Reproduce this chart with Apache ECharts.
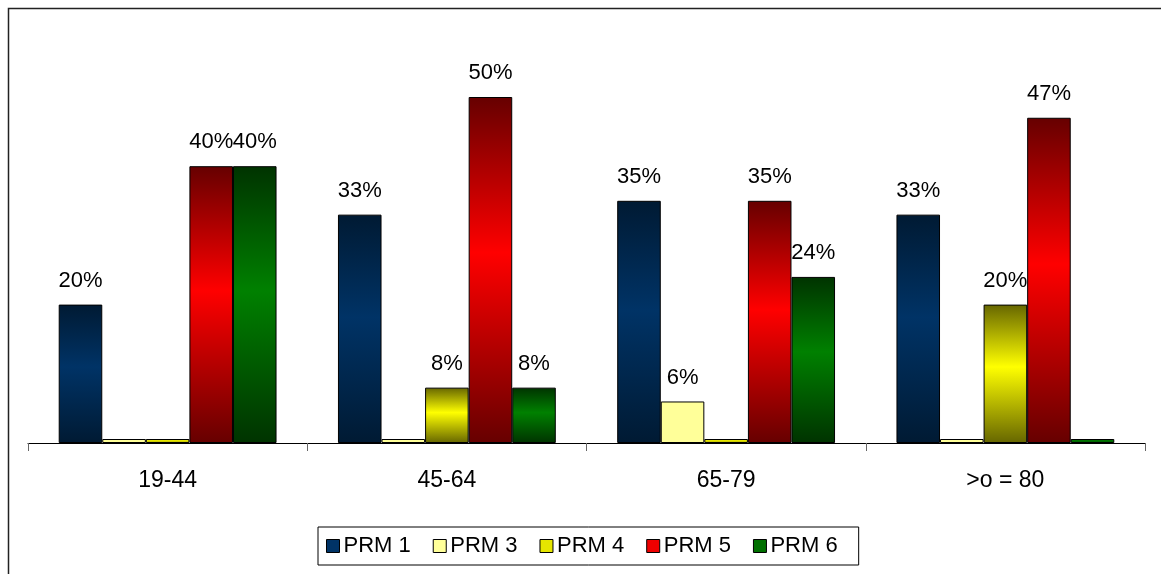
<!DOCTYPE html>
<html lang="en">
<head>
	<meta charset="UTF-8">
	<title>PRM by age group</title>
	<style>
		html, body { margin: 0; padding: 0; background: #fff; }
	</style>
</head>
<body>
	<div id="container" style="width: 1161px;height:574px;"></div>

	<script src="https://cdn.jsdelivr.net/npm/echarts@6/dist/echarts.min.js"></script>
	<script>
        var categories = ['19-44', '45-64', '65-79', '>o = 80'];
        var prm1 = [20, 33, 35, 33];
        var prm3 = [0, 0, 6, 0];
        var prm4 = [0, 8, 0, 20];
        var prm5 = [40, 50, 35, 47];
        var prm6 = [40, 8, 24, 0];

        var font = '"Liberation Sans", Arial, sans-serif';

        function shade(dark, bright) {
            return new echarts.graphic.LinearGradient(0, 0, 0, 1, [
                { offset: 0, color: dark },
                { offset: 0.45, color: bright },
                { offset: 1, color: dark }
            ]);
        }

        function makeSeries(name, data, fill) {
            return {
                name: name,
                type: 'bar',
                data: data,
                barGap: '0%',
                barCategoryGap: '22%',
                barMinHeight: 4,
                itemStyle: { color: fill, borderColor: '#000', borderWidth: 1 },
                label: {
                    show: true,
                    position: 'top',
                    distance: 13,
                    color: '#000',
                    fontSize: 22,
                    fontFamily: font,
                    formatter: function (p) { return p.value ? p.value + '%' : ''; }
                },
                emphasis: { disabled: true }
            };
        }

        var option = {
            animation: false,
            backgroundColor: '#fff',
            grid: { left: 28, right: 16, top: 97, bottom: 131 },
            legend: {
                left: 318,
                top: 527,
                icon: 'rect',
                itemWidth: 13,
                itemHeight: 13,
                itemGap: 22,
                padding: [8, 21, 8, 8],
                borderColor: '#000',
                borderWidth: 1,
                textStyle: { fontSize: 22, fontFamily: font, color: '#000', padding: [0, 0, 0, -1] },
                data: [
                    { name: 'PRM 1', itemStyle: { color: '#003366', borderColor: '#000', borderWidth: 1 } },
                    { name: 'PRM 3', itemStyle: { color: '#ffff99', borderColor: '#000', borderWidth: 1 } },
                    { name: 'PRM 4', itemStyle: { color: '#e6e600', borderColor: '#000', borderWidth: 1 } },
                    { name: 'PRM 5', itemStyle: { color: '#ee0000', borderColor: '#000', borderWidth: 1 } },
                    { name: 'PRM 6', itemStyle: { color: '#007000', borderColor: '#000', borderWidth: 1 } }
                ]
            },
            xAxis: {
                type: 'category',
                data: categories,
                axisLine: { lineStyle: { color: '#000', width: 1 } },
                axisTick: { show: true, length: 8, lineStyle: { color: '#666' } },
                axisLabel: { color: '#000', fontSize: 23, fontFamily: font, margin: 26 }
            },
            yAxis: {
                type: 'value',
                min: 0,
                max: 50,
                show: false,
                splitLine: { show: false }
            },
            graphic: [{
                type: 'rect',
                shape: { x: 8.5, y: 8.5, width: 1300, height: 800 },
                style: { fill: 'none', stroke: '#222', lineWidth: 1.5 },
                silent: true
            }],
            series: [
                makeSeries('PRM 1', prm1, shade('#001a33', '#003366')),
                makeSeries('PRM 3', prm3, '#ffff99'),
                makeSeries('PRM 4', prm4, shade('#666600', '#ffff00')),
                makeSeries('PRM 5', prm5, shade('#660000', '#ff0000')),
                makeSeries('PRM 6', prm6, shade('#003300', '#008000'))
            ]
        };
        var myChart = echarts.init(document.getElementById('container'));
        myChart.setOption(option);
    </script>
</body>
</html>
